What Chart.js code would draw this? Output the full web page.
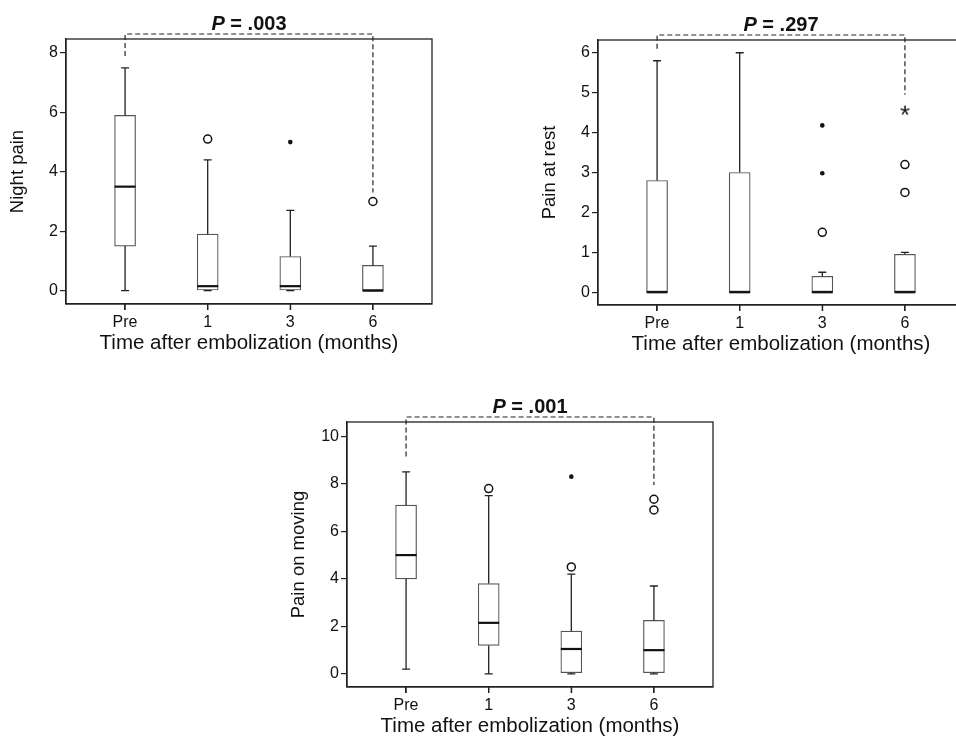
<!DOCTYPE html>
<html>
<head>
<meta charset="utf-8">
<script src="https://cdn.jsdelivr.net/npm/chart.js@4.4.1/dist/chart.umd.min.js"></script>
<style>
  html, body { margin: 0; padding: 0; background: #fff; }
  body { width: 956px; height: 736px; overflow: hidden; position: relative; }
  canvas { position: absolute; }
</style>
</head>
<body>
<canvas id="nightChart" width="450" height="360" style="left:0px;top:0px"></canvas>
<canvas id="restChart" width="450" height="360" style="left:532px;top:1px"></canvas>
<canvas id="moveChart" width="450" height="360" style="left:281px;top:383px"></canvas>
<script>
const timePoints = ['Pre', '1', '3', '6'];
const xTitle = 'Time after embolization (months)';

// Night pain
const nightLow = [0, 0, 0, 0];
const nightQ1 = [1.5, 0, 0, 0];
const nightMedian = [3.5, 0.15, 0.15, 0];
const nightQ3 = [5.9, 1.9, 1.15, 0.85];
const nightHigh = [7.5, 4.4, 2.7, 1.5];
const nightCircles = [[1, 5.1], [3, 3.0]];
const nightDots = [[2, 5.0]];
const nightStars = [];
const nightBracket = [7.9, 3.3];

// Pain at rest
const restLow = [0, 0, 0, 0];
const restQ1 = [0, 0, 0, 0];
const restMedian = [0, 0, 0, 0];
const restQ3 = [2.8, 3.0, 0.4, 0.95];
const restHigh = [5.8, 6.0, 0.5, 1.0];
const restCircles = [[2, 1.5], [3, 3.2], [3, 2.5]];
const restDots = [[2, 4.18], [2, 2.98]];
const restStars = [[3, 4.5]];
const restBracket = [6.1, 4.95];

// Pain on moving
const moveLow = [0.2, 0, 0, 0];
const moveQ1 = [4.0, 1.2, 0.05, 0.05];
const moveMedian = [5.0, 2.15, 1.05, 1.0];
const moveQ3 = [7.1, 3.8, 1.8, 2.25];
const moveHigh = [8.5, 7.5, 4.2, 3.7];
const moveCircles = [[1, 7.8], [2, 4.5], [3, 7.35], [3, 6.9]];
const moveDots = [[2, 8.3]];
const moveStars = [];
const moveBracket = [9.15, 7.95];

const pValues = ['.003', '.297', '.001'];

const INK = '#222';
const FONT = "'Liberation Sans', Arial, sans-serif";

// a text asterisk as point style (the library star has 8 spokes)
const asterisk = document.createElement('canvas');
asterisk.width = 16;
asterisk.height = 16;
(function () {
    const c = asterisk.getContext('2d');
    c.fillStyle = '#111';
    c.font = '26px ' + FONT;
    c.textAlign = 'center';
    c.textBaseline = 'middle';
    c.fillText('*', 8, 12);
})();

// whiskers, medians, frame and the P bracket
const boxPlugin = {
    id: 'boxDetails',
    afterDatasetsDraw(chart, args, opts) {
        const { ctx, scales: { x, y } } = chart;
        const half = 10.5;
        const cap = 4;
        ctx.save();
        ctx.strokeStyle = INK;
        ctx.lineWidth = 1.3;
        opts.low.forEach((lo, i) => {
            const px = x.getPixelForValue(i);
            const yHi = y.getPixelForValue(opts.high[i]);
            const yLo = y.getPixelForValue(lo);
            ctx.beginPath();
            ctx.moveTo(px, y.getPixelForValue(opts.q3[i]));
            ctx.lineTo(px, yHi);
            ctx.moveTo(px - cap, yHi);
            ctx.lineTo(px + cap, yHi);
            ctx.moveTo(px, y.getPixelForValue(opts.q1[i]));
            ctx.lineTo(px, yLo);
            ctx.moveTo(px - cap, yLo);
            ctx.lineTo(px + cap, yLo);
            ctx.stroke();
        });
        ctx.lineWidth = 2.2;
        ctx.strokeStyle = '#111';
        opts.median.forEach((m, i) => {
            const px = x.getPixelForValue(i);
            const py = y.getPixelForValue(m);
            ctx.beginPath();
            ctx.moveTo(px - half, py);
            ctx.lineTo(px + half, py);
            ctx.stroke();
        });
        ctx.restore();
    },
    afterDraw(chart, args, opts) {
        const { ctx, chartArea, scales: { x, y } } = chart;
        ctx.save();
        ctx.strokeStyle = INK;
        ctx.lineWidth = 1.3;
        ctx.strokeRect(chartArea.left, chartArea.top, chartArea.right - chartArea.left, chartArea.bottom - chartArea.top);

        // tick marks under each time point
        ctx.beginPath();
        timePoints.forEach((t, i) => {
            const px = x.getPixelForValue(i);
            ctx.moveTo(px, chartArea.bottom);
            ctx.lineTo(px, chartArea.bottom + 6);
        });
        ctx.stroke();

        const x0 = x.getPixelForValue(0);
        const x1 = x.getPixelForValue(timePoints.length - 1);
        const yt = chartArea.top - 5;
        ctx.setLineDash([5, 3]);
        ctx.lineWidth = 1.2;
        ctx.beginPath();
        ctx.moveTo(x0, y.getPixelForValue(opts.bracket[0]));
        ctx.lineTo(x0, yt);
        ctx.lineTo(x1, yt);
        ctx.lineTo(x1, y.getPixelForValue(opts.bracket[1]));
        ctx.stroke();
        ctx.setLineDash([]);

        // "P = .003" with an italic P
        const pFont = 'italic bold 20px ' + FONT;
        const restFont = 'bold 20px ' + FONT;
        const rest = ' = ' + opts.p;
        ctx.font = pFont;
        const wP = ctx.measureText('P').width;
        ctx.font = restFont;
        const wR = ctx.measureText(rest).width;
        const start = (x0 + x1) / 2 - (wP + wR) / 2;
        const base = chartArea.top - 9.5;
        ctx.fillStyle = '#111';
        ctx.textBaseline = 'alphabetic';
        ctx.textAlign = 'left';
        ctx.font = pFont;
        ctx.fillText('P', start, base);
        ctx.font = restFont;
        ctx.fillText(rest, start + wP, base);
        ctx.restore();
    }
};

function toPoints(list) {
    return list.map(p => ({ x: p[0], y: p[1] }));
}

function makeBoxChart(id, yLabel, yMin, yMax, yStep, s) {
    const ctx = document.getElementById(id).getContext('2d');
    const boxes = s.q1.map((q, i) => ({ x: i, y: [q, s.q3[i]] }));

    return new Chart(ctx, {
        type: 'bar',
        data: {
            datasets: [
                {
                    type: 'scatter',
                    data: toPoints(s.circles),
                    pointStyle: 'circle',
                    radius: 4,
                    backgroundColor: '#fff',
                    borderColor: '#111',
                    borderWidth: 1.5,
                    order: 0
                },
                {
                    type: 'scatter',
                    data: toPoints(s.dots),
                    pointStyle: 'circle',
                    radius: 2.3,
                    backgroundColor: '#111',
                    borderColor: '#111',
                    borderWidth: 0,
                    order: 0
                },
                {
                    type: 'scatter',
                    data: toPoints(s.stars),
                    pointStyle: asterisk,
                    radius: 7,
                    order: 0
                },
                {
                    type: 'bar',
                    data: boxes,
                    backgroundColor: '#fff',
                    borderColor: '#555',
                    borderWidth: 1.2,
                    borderSkipped: false,
                    barThickness: 21,
                    order: 1
                }
            ]
        },
        options: {
            responsive: false,
            animation: false,
            events: [],
            layout: { padding: { left: 0, top: 39, right: 18, bottom: 0 } },
            scales: {
                x: {
                    type: 'linear',
                    min: -0.715,
                    max: 3.715,
                    offset: false,
                    afterFit: scale => { scale.height = 56; },
                    grid: { offset: false, drawOnChartArea: false, drawTicks: true, tickLength: 6, color: INK, lineWidth: 1.2 },
                    border: { display: true, color: INK, width: 1.3 },
                    ticks: {
                        stepSize: 1,
                        includeBounds: false,
                        autoSkip: false,
                        maxRotation: 0,
                        padding: 3,
                        color: '#111',
                        font: { family: FONT, size: 16 },
                        callback: value => timePoints[value] ?? ''
                    },
                    title: {
                        display: true,
                        text: xTitle,
                        color: '#111',
                        font: { family: FONT, size: 20.5 },
                        padding: { top: 0, bottom: 4 }
                    }
                },
                y: {
                    type: 'linear',
                    min: yMin,
                    max: yMax,
                    afterFit: scale => { scale.width = 66; },
                    grid: { drawOnChartArea: false, tickLength: 6, color: INK, lineWidth: 1.2 },
                    border: { display: true, color: INK, width: 1.3 },
                    ticks: {
                        stepSize: yStep,
                        includeBounds: false,
                        padding: 2,
                        color: '#111',
                        font: { family: FONT, size: 16 }
                    },
                    title: {
                        display: true,
                        text: yLabel,
                        color: '#111',
                        font: { family: FONT, size: 18.5 },
                        padding: { top: 7, bottom: 0 }
                    }
                }
            },
            plugins: {
                legend: { display: false },
                tooltip: { enabled: false },
                boxDetails: {
                    low: s.low, q1: s.q1, median: s.median, q3: s.q3, high: s.high,
                    bracket: s.bracket, p: s.p
                }
            }
        },
        plugins: [boxPlugin]
    });
}

makeBoxChart('nightChart', 'Night pain', -0.45, 8.47, 2, {
    low: nightLow, q1: nightQ1, median: nightMedian, q3: nightQ3, high: nightHigh,
    circles: nightCircles, dots: nightDots, stars: nightStars, bracket: nightBracket, p: pValues[0]
});
makeBoxChart('restChart', 'Pain at rest', -0.32, 6.32, 1, {
    low: restLow, q1: restQ1, median: restMedian, q3: restQ3, high: restHigh,
    circles: restCircles, dots: restDots, stars: restStars, bracket: restBracket, p: pValues[1]
});
makeBoxChart('moveChart', 'Pain on moving', -0.55, 10.6, 2, {
    low: moveLow, q1: moveQ1, median: moveMedian, q3: moveQ3, high: moveHigh,
    circles: moveCircles, dots: moveDots, stars: moveStars, bracket: moveBracket, p: pValues[2]
});
</script>
</body>
</html>
